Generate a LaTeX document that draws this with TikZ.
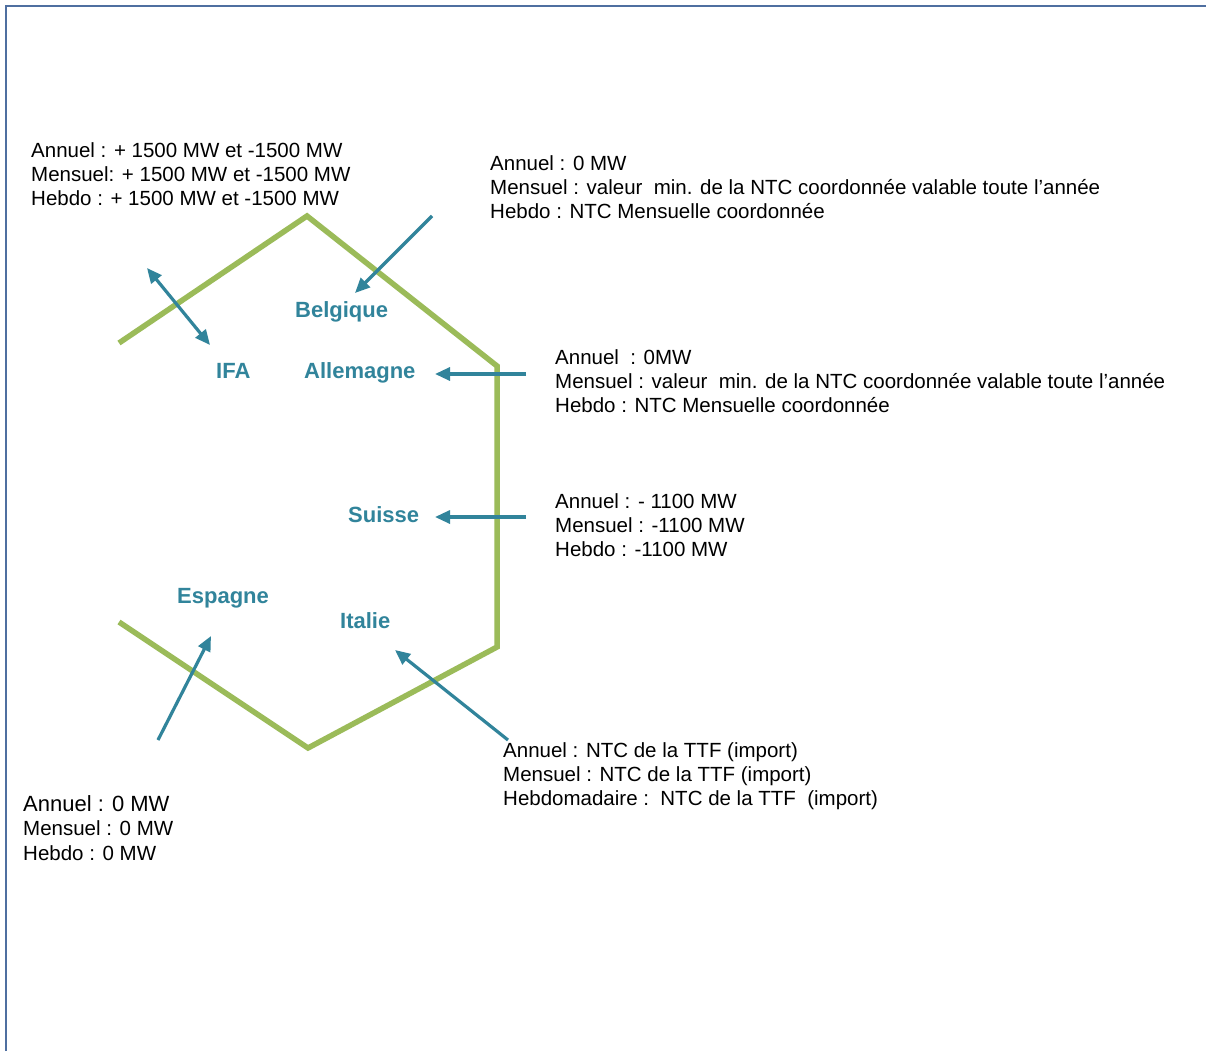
\documentclass[tikz,border=0pt]{standalone}
\usepackage{fontspec}
\setmainfont{Liberation Sans}
\usetikzlibrary{arrows.meta}
\definecolor{bordgreen}{HTML}{9BBB59}
\definecolor{arrblue}{HTML}{31849B}
\definecolor{framecol}{HTML}{4F6FA0}
\tikzset{
  infotext/.style={anchor=north west, inner sep=0pt, align=left, text=black,
    font={\fontsize{20.5}{24.2}\selectfont}},
  country/.style={anchor=base west, inner sep=0pt, text=arrblue,
    font={\fontsize{22}{24}\selectfont\bfseries}},
  border/.style={draw=bordgreen, line width=5.5pt, line join=miter},
  flow/.style={draw=arrblue, line width=3.2pt, -{Triangle[length=15pt,width=13pt]}},
  flowboth/.style={draw=arrblue, line width=3.2pt, {Triangle[length=15pt,width=13pt]}-{Triangle[length=15pt,width=13pt]}}
}
\begin{document}
\begin{tikzpicture}[x=1pt,y=-1pt]
\useasboundingbox (0,0) rectangle (1206,1051);
\fill[white] (0,0) rectangle (1206,1051);
% frame
\draw[framecol, line width=2.2pt] (6,1051) -- (6,6) -- (1206,6);

% border line
\draw[border] (119,343) -- (307,216) -- (497,366) -- (497,647) -- (308,748) -- (119,622);

% country labels
\node[country] (ifa) at (216,378) {IFA};
\node[country] (bel) at (295,317) {Belgique};
\node[country] (all) at (304,378) {Allemagne};
\node[country] (sui) at (348,522) {Suisse};
\node[country] (esp) at (177,603) {Espagne};
\node[country] (ita) at (340,628) {Italie};

% arrow end points
\coordinate (ifaA) at (147,268);
\coordinate (ifaB) at (210,345);
\coordinate (belA) at (432,216);
\coordinate (belB) at (355,293);
\coordinate (allA) at (526,374);
\coordinate (allB) at (435,374);
\coordinate (suiA) at (526,517);
\coordinate (suiB) at (435,517);
\coordinate (espA) at (158,740);
\coordinate (espB) at (211,636);
\coordinate (itaA) at (508,740);
\coordinate (itaB) at (395,650);

\draw[flowboth] (ifaA) -- (ifaB);
\draw[flow] (belA) -- (belB);
\draw[flow] (allA) -- (allB);
\draw[flow] (suiA) -- (suiB);
\draw[flow] (espA) -- (espB);
\draw[flow] (itaA) -- (itaB);

% info texts
\node[infotext] (tifa) at (31,142.5) {Annuel : + 1500 MW et -1500 MW\\Mensuel: + 1500 MW et -1500 MW\\Hebdo : + 1500 MW et -1500 MW};
\node[infotext] (tbel) at (490,155.5) {Annuel : 0 MW\\Mensuel : valeur\ \ min. de la NTC coordonnée valable toute l’année\\Hebdo : NTC Mensuelle coordonnée};
\node[infotext] (tall) at (555,349.5) {Annuel\ \ : 0MW\\Mensuel : valeur\ \ min. de la NTC coordonnée valable toute l’année\\Hebdo : NTC Mensuelle coordonnée};
\node[infotext] (tsui) at (555,493.5) {Annuel : - 1100 MW\\Mensuel : -1100 MW\\Hebdo : -1100 MW};
\node[infotext] (tita) at (503,742.5) {Annuel : NTC de la TTF (import)\\Mensuel : NTC de la TTF (import)\\Hebdomadaire :\ \ NTC de la TTF\ \ (import)};
\node[infotext, font={\fontsize{20.5}{24.8}\selectfont}] (tesp) at (23,795) {{\fontsize{22}{24}\selectfont Annuel : 0 MW}\\Mensuel : 0 MW\\Hebdo : 0 MW};
\end{tikzpicture}
\end{document}
